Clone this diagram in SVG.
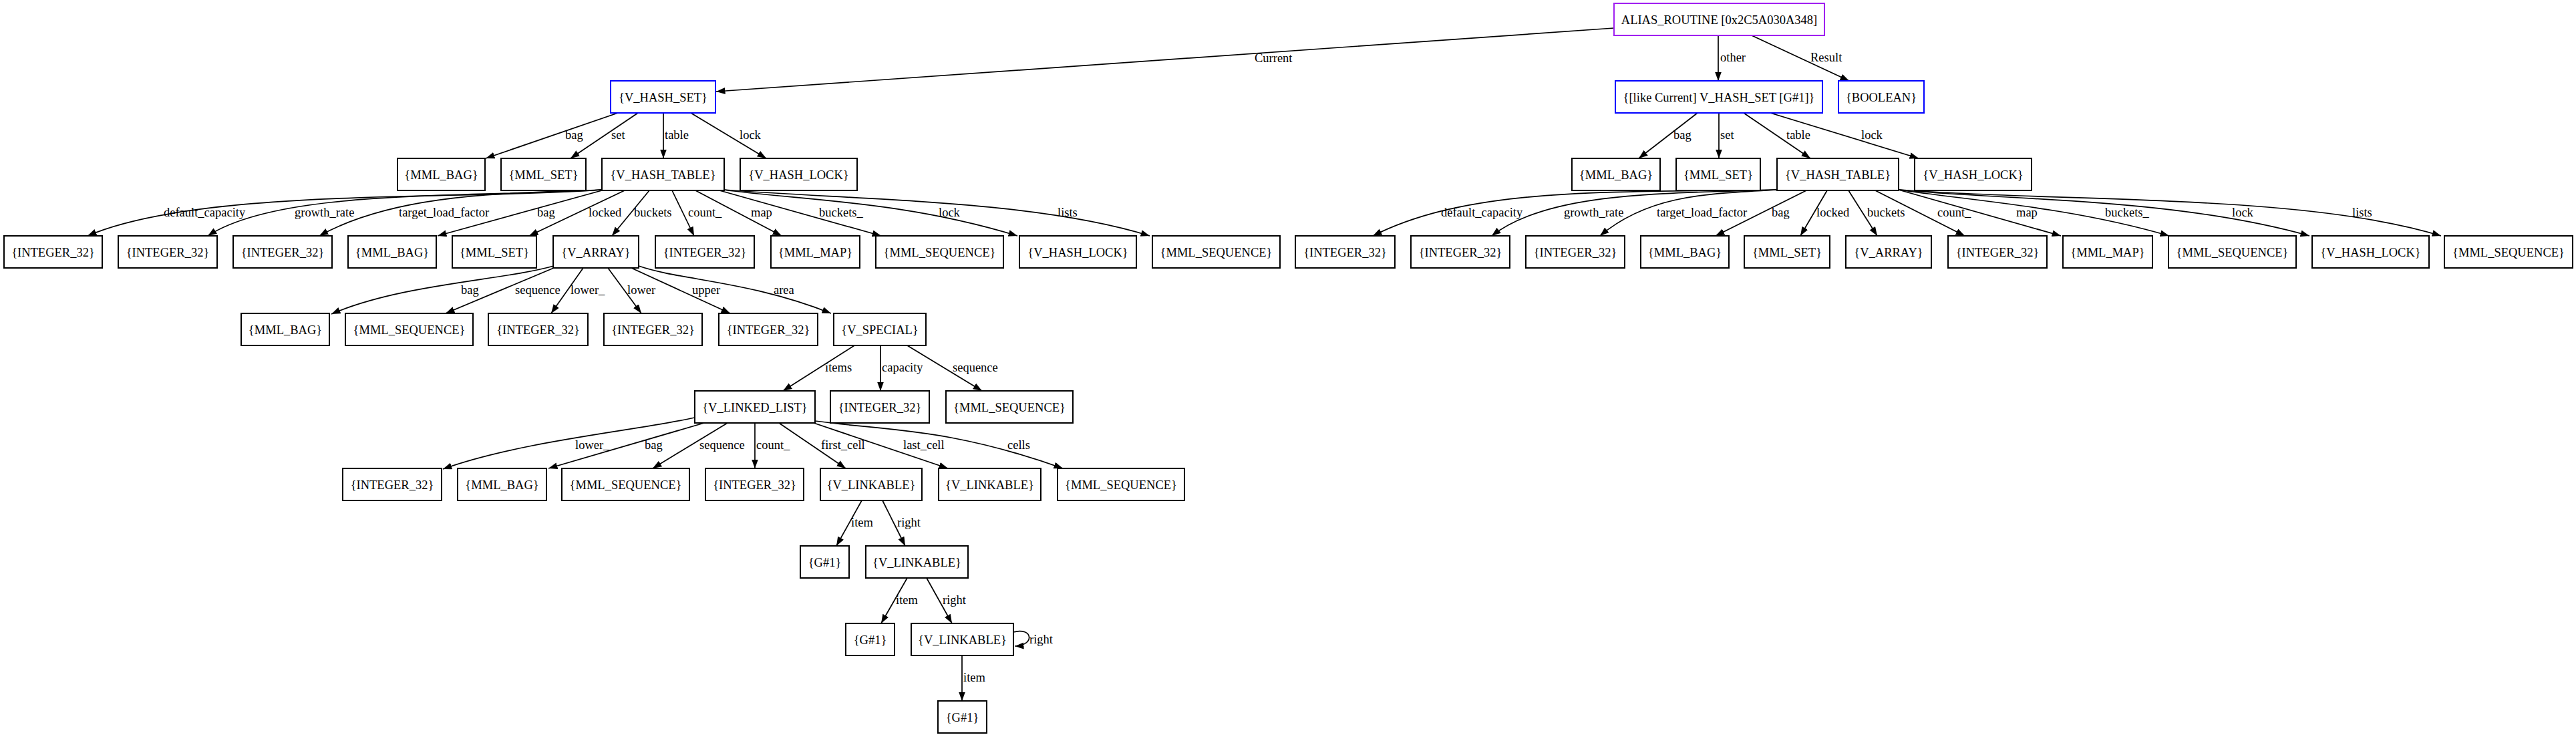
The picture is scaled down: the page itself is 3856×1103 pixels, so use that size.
<svg xmlns="http://www.w3.org/2000/svg" width="3856" height="1103" viewBox="0 0 3856 1103">
<style>
.n rect{fill:#fff;stroke:#000;stroke-width:2}
.n.p rect{stroke:#a020f0}
.n.b rect{stroke:#0000ff}
text{font-family:"Liberation Serif","Times New Roman",serif;font-size:18.5px;fill:#000}
.n text{text-anchor:middle}
#edges path{fill:none;stroke:#000;stroke-width:1.7;marker-end:url(#ah)}
</style>
<defs>
<marker id="ah" markerUnits="userSpaceOnUse" markerWidth="15" markerHeight="11" refX="13.5" refY="5" orient="auto">
<path d="M0,0 L13.5,5 L0,10 Z" fill="#000"/>
</marker>
</defs>
<rect width="3856" height="1103" fill="#fff"/>
<g id="edges">
<path d="M2416,42 L1072,137"/>
<path d="M2572,53 L2572,121"/>
<path d="M2622,53 L2768,121"/>
<path d="M925,169 L727,237"/>
<path d="M955,169 L854,237"/>
<path d="M993,169 L993,237"/>
<path d="M1034,169 L1147,237"/>
<path d="M2541,169 L2453,237"/>
<path d="M2573,169 L2573,237"/>
<path d="M2610,169 L2710,237"/>
<path d="M2650,169 L2872,237"/>
<path d="M901,284 C700,300 300,280 131,353"/>
<path d="M901,284 C700,296 420,282 311,353"/>
<path d="M901,284 C780,290 600,285 478,353"/>
<path d="M901,285 L655,353"/>
<path d="M935,285 L792,353"/>
<path d="M972,285 L916,353"/>
<path d="M1006,285 L1039,353"/>
<path d="M1041,285 L1170,353"/>
<path d="M1077,285 L1319,353"/>
<path d="M1083,284 C1200,300 1350,300 1523,353"/>
<path d="M1083,284 C1300,300 1550,300 1721,353"/>
<path d="M2660,284 C2400,288 2200,280 2055,353"/>
<path d="M2660,284 C2500,290 2320,285 2233,353"/>
<path d="M2660,284 C2560,290 2470,290 2395,353"/>
<path d="M2704,285 L2568,353"/>
<path d="M2735,285 L2695,353"/>
<path d="M2767,285 L2810,353"/>
<path d="M2807,285 L2941,353"/>
<path d="M2842,284 L3085,353"/>
<path d="M2842,284 C2950,300 3100,310 3247,353"/>
<path d="M2842,284 C3000,300 3250,295 3457,353"/>
<path d="M2842,284 C3100,303 3450,290 3654,353"/>
<path d="M829,398 C750,420 600,425 496,470"/>
<path d="M829,401 L667,469"/>
<path d="M873,401 L825,469"/>
<path d="M910,401 L960,469"/>
<path d="M945,401 L1093,469"/>
<path d="M956,398 C1020,420 1120,420 1244,469"/>
<path d="M1279,517 L1172,585"/>
<path d="M1318,517 L1318,585"/>
<path d="M1358,517 L1470,585"/>
<path d="M1040,625 C950,645 780,660 663,702"/>
<path d="M1054,633 L821,701"/>
<path d="M1089,633 L977,701"/>
<path d="M1130,633 L1130,701"/>
<path d="M1166,633 L1266,701"/>
<path d="M1218,633 L1419,701"/>
<path d="M1220,630 C1330,645 1420,640 1591,701"/>
<path d="M1290,749 L1252,817"/>
<path d="M1321,749 L1355,817"/>
<path d="M1358,865 L1319,933"/>
<path d="M1387,865 L1425,933"/>
<path d="M1440,981 L1440,1049"/>
<path d="M1517,946 C1546,938 1550,966 1519,967"/>
</g>
<g id="edge-labels">
<text x="1878" y="93">Current</text>
<text x="2575" y="92">other</text>
<text x="2710" y="92">Result</text>
<text x="846" y="208">bag</text>
<text x="915" y="208">set</text>
<text x="995" y="208">table</text>
<text x="1107" y="208">lock</text>
<text x="2505" y="208">bag</text>
<text x="2575" y="208">set</text>
<text x="2674" y="208">table</text>
<text x="2786" y="208">lock</text>
<text x="245" y="324">default_capacity</text>
<text x="441" y="324">growth_rate</text>
<text x="597" y="324">target_load_factor</text>
<text x="804" y="324">bag</text>
<text x="881" y="324">locked</text>
<text x="949" y="324">buckets</text>
<text x="1030" y="324">count_</text>
<text x="1124" y="324">map</text>
<text x="1226" y="324">buckets_</text>
<text x="1405" y="324">lock</text>
<text x="1583" y="324">lists</text>
<text x="2157" y="324">default_capacity</text>
<text x="2341" y="324">growth_rate</text>
<text x="2480" y="324">target_load_factor</text>
<text x="2652" y="324">bag</text>
<text x="2719" y="324">locked</text>
<text x="2795" y="324">buckets</text>
<text x="2900" y="324">count_</text>
<text x="3018" y="324">map</text>
<text x="3151" y="324">buckets_</text>
<text x="3341" y="324">lock</text>
<text x="3521" y="324">lists</text>
<text x="690" y="440">bag</text>
<text x="771" y="440">sequence</text>
<text x="854" y="440">lower_</text>
<text x="939" y="440">lower</text>
<text x="1036" y="440">upper</text>
<text x="1158" y="440">area</text>
<text x="1235" y="556">items</text>
<text x="1320" y="556">capacity</text>
<text x="1426" y="556">sequence</text>
<text x="861" y="672">lower_</text>
<text x="965" y="672">bag</text>
<text x="1047" y="672">sequence</text>
<text x="1132" y="672">count_</text>
<text x="1229" y="672">first_cell</text>
<text x="1352" y="672">last_cell</text>
<text x="1508" y="672">cells</text>
<text x="1274" y="788">item</text>
<text x="1343" y="788">right</text>
<text x="1341" y="904">item</text>
<text x="1411" y="904">right</text>
<text x="1442" y="1020">item</text>
<text x="1541" y="963">right</text>
</g>
<g id="n0" class="n p"><rect x="2416" y="5" width="315" height="48"/><text x="2573.5" y="36">ALIAS_ROUTINE [0x2C5A030A348]</text></g>
<g id="n1" class="n b"><rect x="914" y="121" width="157" height="48"/><text x="992.5" y="152">{V_HASH_SET}</text></g>
<g id="n2" class="n b"><rect x="2418" y="121" width="310" height="48"/><text x="2573" y="152">{[like Current] V_HASH_SET [G#1]}</text></g>
<g id="n3" class="n b"><rect x="2752" y="121" width="128" height="48"/><text x="2816" y="152">{BOOLEAN}</text></g>
<g id="n4" class="n"><rect x="595" y="237" width="131" height="48"/><text x="660.5" y="268">{MML_BAG}</text></g>
<g id="n5" class="n"><rect x="750" y="237" width="127" height="48"/><text x="813.5" y="268">{MML_SET}</text></g>
<g id="n6" class="n"><rect x="901" y="237" width="183" height="48"/><text x="992.5" y="268">{V_HASH_TABLE}</text></g>
<g id="n7" class="n"><rect x="1108" y="237" width="175" height="48"/><text x="1195.5" y="268">{V_HASH_LOCK}</text></g>
<g id="n8" class="n"><rect x="2353" y="237" width="132" height="48"/><text x="2419" y="268">{MML_BAG}</text></g>
<g id="n9" class="n"><rect x="2509" y="237" width="126" height="48"/><text x="2572" y="268">{MML_SET}</text></g>
<g id="n10" class="n"><rect x="2660" y="237" width="182" height="48"/><text x="2751" y="268">{V_HASH_TABLE}</text></g>
<g id="n11" class="n"><rect x="2866" y="237" width="175" height="48"/><text x="2953.5" y="268">{V_HASH_LOCK}</text></g>
<g id="a1" class="n"><rect x="6" y="353" width="147" height="48"/><text x="79.5" y="384">{INTEGER_32}</text></g>
<g id="a2" class="n"><rect x="177" y="353" width="148" height="48"/><text x="251" y="384">{INTEGER_32}</text></g>
<g id="a3" class="n"><rect x="349" y="353" width="148" height="48"/><text x="423" y="384">{INTEGER_32}</text></g>
<g id="a4" class="n"><rect x="521" y="353" width="132" height="48"/><text x="587" y="384">{MML_BAG}</text></g>
<g id="a5" class="n"><rect x="677" y="353" width="126" height="48"/><text x="740" y="384">{MML_SET}</text></g>
<g id="a6" class="n"><rect x="828" y="353" width="128" height="48"/><text x="892" y="384">{V_ARRAY}</text></g>
<g id="a7" class="n"><rect x="981" y="353" width="148" height="48"/><text x="1055" y="384">{INTEGER_32}</text></g>
<g id="a8" class="n"><rect x="1154" y="353" width="133" height="48"/><text x="1220.5" y="384">{MML_MAP}</text></g>
<g id="a9" class="n"><rect x="1311" y="353" width="191" height="48"/><text x="1406.5" y="384">{MML_SEQUENCE}</text></g>
<g id="a10" class="n"><rect x="1526" y="353" width="175" height="48"/><text x="1613.5" y="384">{V_HASH_LOCK}</text></g>
<g id="a11" class="n"><rect x="1725" y="353" width="191" height="48"/><text x="1820.5" y="384">{MML_SEQUENCE}</text></g>
<g id="b1" class="n"><rect x="1939" y="353" width="149" height="48"/><text x="2013.5" y="384">{INTEGER_32}</text></g>
<g id="b2" class="n"><rect x="2112" y="353" width="148" height="48"/><text x="2186" y="384">{INTEGER_32}</text></g>
<g id="b3" class="n"><rect x="2284" y="353" width="148" height="48"/><text x="2358" y="384">{INTEGER_32}</text></g>
<g id="b4" class="n"><rect x="2456" y="353" width="132" height="48"/><text x="2522" y="384">{MML_BAG}</text></g>
<g id="b5" class="n"><rect x="2611" y="353" width="128" height="48"/><text x="2675" y="384">{MML_SET}</text></g>
<g id="b6" class="n"><rect x="2763" y="353" width="128" height="48"/><text x="2827" y="384">{V_ARRAY}</text></g>
<g id="b7" class="n"><rect x="2916" y="353" width="148" height="48"/><text x="2990" y="384">{INTEGER_32}</text></g>
<g id="b8" class="n"><rect x="3088" y="353" width="134" height="48"/><text x="3155" y="384">{MML_MAP}</text></g>
<g id="b9" class="n"><rect x="3246" y="353" width="191" height="48"/><text x="3341.5" y="384">{MML_SEQUENCE}</text></g>
<g id="b10" class="n"><rect x="3461" y="353" width="175" height="48"/><text x="3548.5" y="384">{V_HASH_LOCK}</text></g>
<g id="b11" class="n"><rect x="3659" y="353" width="192" height="48"/><text x="3755" y="384">{MML_SEQUENCE}</text></g>
<g id="c1" class="n"><rect x="361" y="469" width="132" height="48"/><text x="427" y="500">{MML_BAG}</text></g>
<g id="c2" class="n"><rect x="517" y="469" width="191" height="48"/><text x="612.5" y="500">{MML_SEQUENCE}</text></g>
<g id="c3" class="n"><rect x="731" y="469" width="149" height="48"/><text x="805.5" y="500">{INTEGER_32}</text></g>
<g id="c4" class="n"><rect x="904" y="469" width="147" height="48"/><text x="977.5" y="500">{INTEGER_32}</text></g>
<g id="c5" class="n"><rect x="1076" y="469" width="148" height="48"/><text x="1150" y="500">{INTEGER_32}</text></g>
<g id="c6" class="n"><rect x="1248" y="469" width="138" height="48"/><text x="1317" y="500">{V_SPECIAL}</text></g>
<g id="d1" class="n"><rect x="1040" y="585" width="180" height="48"/><text x="1130" y="616">{V_LINKED_LIST}</text></g>
<g id="d2" class="n"><rect x="1243" y="585" width="148" height="48"/><text x="1317" y="616">{INTEGER_32}</text></g>
<g id="d3" class="n"><rect x="1416" y="585" width="190" height="48"/><text x="1511" y="616">{MML_SEQUENCE}</text></g>
<g id="e1" class="n"><rect x="513" y="701" width="148" height="48"/><text x="587" y="732">{INTEGER_32}</text></g>
<g id="e2" class="n"><rect x="685" y="701" width="133" height="48"/><text x="751.5" y="732">{MML_BAG}</text></g>
<g id="e3" class="n"><rect x="841" y="701" width="191" height="48"/><text x="936.5" y="732">{MML_SEQUENCE}</text></g>
<g id="e4" class="n"><rect x="1056" y="701" width="147" height="48"/><text x="1129.5" y="732">{INTEGER_32}</text></g>
<g id="e5" class="n"><rect x="1228" y="701" width="152" height="48"/><text x="1304" y="732">{V_LINKABLE}</text></g>
<g id="e6" class="n"><rect x="1405" y="701" width="153" height="48"/><text x="1481.5" y="732">{V_LINKABLE}</text></g>
<g id="e7" class="n"><rect x="1583" y="701" width="190" height="48"/><text x="1678" y="732">{MML_SEQUENCE}</text></g>
<g id="f1" class="n"><rect x="1198" y="817" width="73" height="48"/><text x="1234.5" y="848">{G#1}</text></g>
<g id="f2" class="n"><rect x="1296" y="817" width="153" height="48"/><text x="1372.5" y="848">{V_LINKABLE}</text></g>
<g id="g1" class="n"><rect x="1266" y="933" width="73" height="48"/><text x="1302.5" y="964">{G#1}</text></g>
<g id="g2" class="n"><rect x="1364" y="933" width="153" height="48"/><text x="1440.5" y="964">{V_LINKABLE}</text></g>
<g id="h1" class="n"><rect x="1404" y="1049" width="73" height="48"/><text x="1440.5" y="1080">{G#1}</text></g>
</svg>
